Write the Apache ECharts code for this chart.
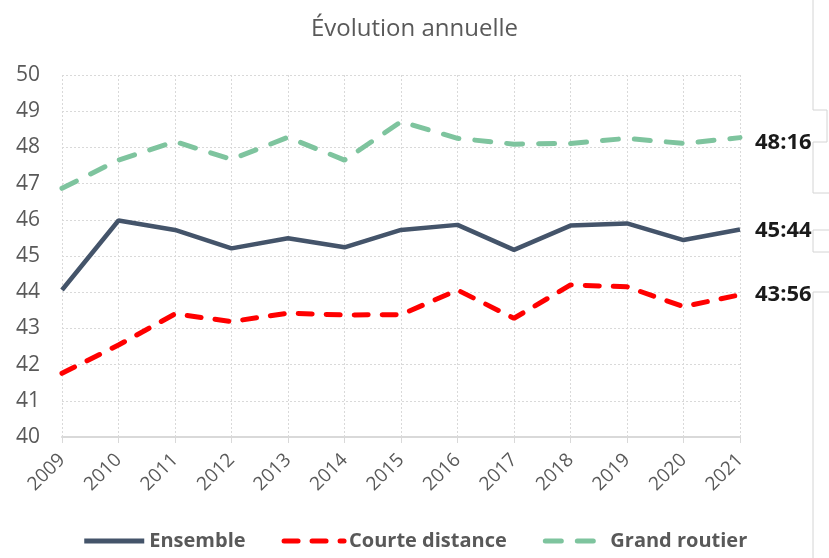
<!DOCTYPE html>
<html>
<head>
<meta charset="utf-8">
<script src="https://cdn.jsdelivr.net/npm/echarts@6/dist/echarts.min.js"></script>
<style>
  html, body { margin: 0; padding: 0; background: #fff; }
  #chart { width: 829px; height: 558px; }
</style>
</head>
<body>
<div id="chart"></div>
<script>
var years = ['2009', '2010', '2011', '2012', '2013', '2014', '2015', '2016', '2017', '2018', '2019', '2020', '2021'];
var ensemble = [44.06, 45.98, 45.72, 45.21, 45.49, 45.24, 45.72, 45.86, 45.17, 45.84, 45.90, 45.44, 45.73];
var courte = [41.76, 42.54, 43.40, 43.19, 43.42, 43.37, 43.38, 44.06, 43.28, 44.20, 44.15, 43.60, 43.93];
var grand = [46.87, 47.65, 48.16, 47.67, 48.28, 47.65, 48.71, 48.25, 48.09, 48.11, 48.25, 48.11, 48.27];
var endLabels = {'Ensemble': '45:44', 'Courte distance': '43:56', 'Grand routier': '48:16'};

var dom = document.getElementById('chart');
var myChart = echarts.init(dom);
var font = 'Open Sans';

function endLabel(dy) {
    return {
        show: true,
        distance: 15,
        offset: [0, dy],
        formatter: function (p) { return endLabels[p.seriesName]; },
        fontFamily: font,
        fontSize: 22,
        fontWeight: 'bold',
        color: '#1a1a1a'
    };
}

var edge = '#d9d9d9';
var option = {
    animation: false,
    backgroundColor: '#fff',
    title: {
        text: 'Évolution annuelle',
        left: 'center',
        top: 12,
        textStyle: { fontFamily: font, fontSize: 24, fontWeight: 'normal', color: '#595959' }
    },
    grid: { left: 62, right: 89, top: 75, bottom: 121 },
    legend: {
        bottom: 2,
        left: 'center',
        itemWidth: 60,
        itemHeight: 12,
        itemGap: 36,
        lineStyle: { width: 5 },
        itemStyle: { opacity: 0 },
        textStyle: { fontFamily: font, fontSize: 20, fontWeight: 'bold', color: '#595959' },
        data: ['Ensemble', 'Courte distance', 'Grand routier']
    },
    xAxis: {
        type: 'category',
        data: years,
        boundaryGap: false,
        axisLine: { lineStyle: { color: edge, width: 2 } },
        axisTick: { show: true, length: 6, lineStyle: { color: edge } },
        axisLabel: { rotate: 45, margin: 20, fontFamily: font, fontSize: 19, color: '#595959' },
        splitLine: { show: true, lineStyle: { color: edge, type: [2, 2] } }
    },
    yAxis: {
        type: 'value',
        min: 40,
        max: 50,
        interval: 1,
        axisLine: { show: false },
        axisTick: { show: false },
        axisLabel: { margin: 22, fontFamily: font, fontSize: 21, color: '#595959' },
        splitLine: { lineStyle: { color: edge, type: [2, 2] } }
    },
    series: [
        {
            name: 'Ensemble',
            type: 'line',
            data: ensemble,
            symbol: 'none',
            color: '#44546a',
            lineStyle: { width: 4.5, color: '#44546a' },
            endLabel: endLabel(1)
        },
        {
            name: 'Courte distance',
            type: 'line',
            data: courte,
            symbol: 'none',
            color: '#ff0000',
            lineStyle: { width: 5, color: '#ff0000', type: [14, 14], cap: 'round' },
            endLabel: endLabel(0)
        },
        {
            name: 'Grand routier',
            type: 'line',
            data: grand,
            symbol: 'none',
            color: '#7ec49e',
            lineStyle: { width: 5, color: '#7ec49e', type: [16, 16], cap: 'round' },
            endLabel: endLabel(5)
        }
    ],
    graphic: [
        { type: 'polyline', shape: { points: [[813, 0], [813, 110], [827, 110], [827, 142], [813, 142], [813, 193], [829, 193]] }, style: { stroke: '#d4d4d4', fill: null, lineWidth: 1 } },
        { type: 'polyline', shape: { points: [[829, 230], [813, 230], [813, 252], [829, 252]] }, style: { stroke: '#d4d4d4', fill: null, lineWidth: 1 } },
        { type: 'polyline', shape: { points: [[829, 292], [813, 292], [813, 558]] }, style: { stroke: '#d4d4d4', fill: null, lineWidth: 1 } }
    ]
};
myChart.setOption(option);
</script>
</body>
</html>
